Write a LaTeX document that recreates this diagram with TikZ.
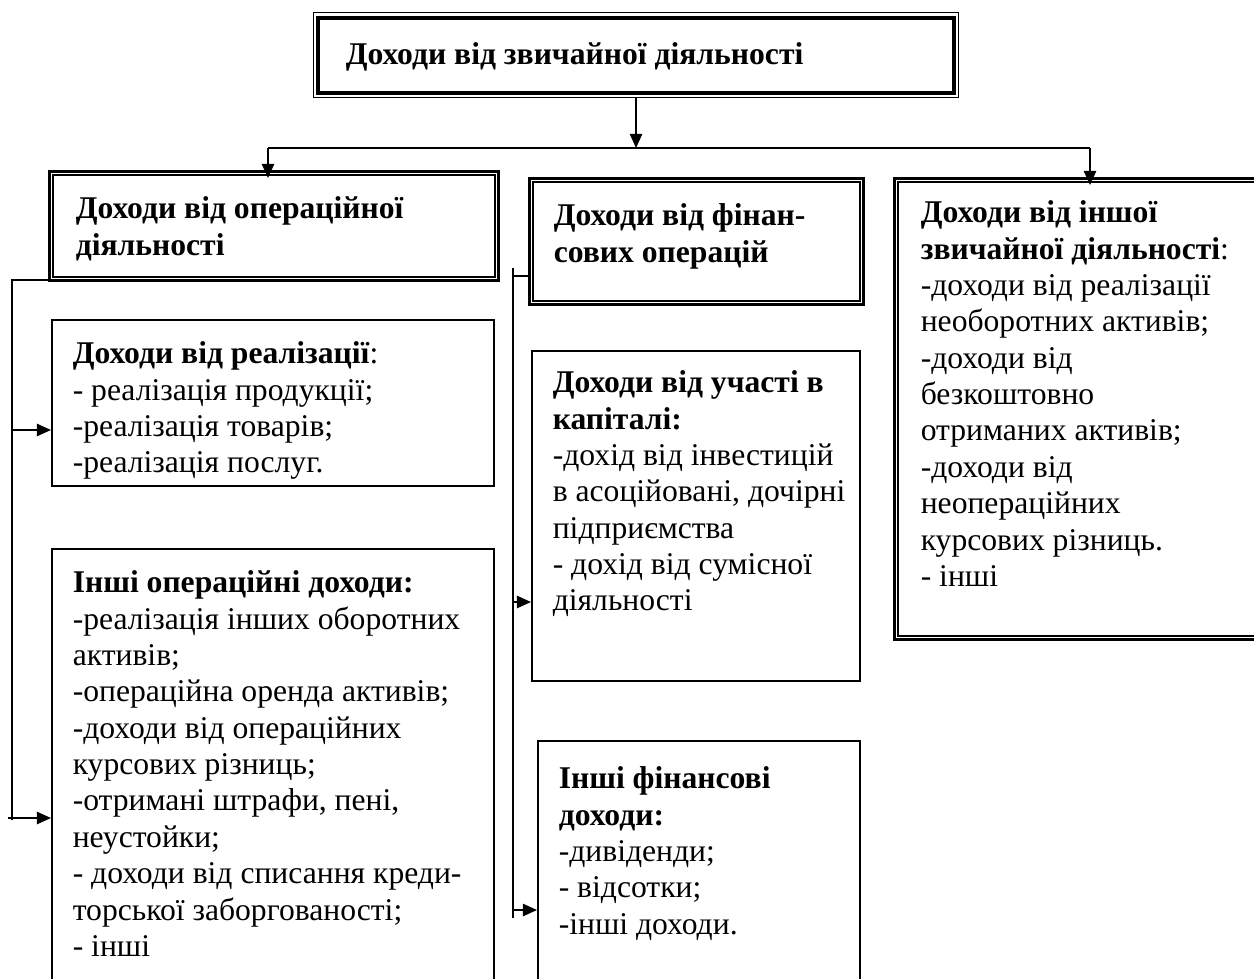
\documentclass[tikz,border=0pt]{standalone}
\usepackage{fontspec}
\setmainfont{Liberation Serif}
\usetikzlibrary{calc,arrows.meta}

\tikzset{
  boxsize/.style 2 args={minimum width=#1*0.02cm, minimum height=#2*0.02cm},
  plainbox/.style={draw, line width=1.1pt, anchor=north west, inner sep=0pt},
  dblbox/.style={draw, line width=1.6pt, anchor=north west, inner sep=0pt},
  boxtext/.style={anchor=north west, align=left, inner sep=0pt,
    font=\fontsize{18}{20.7}\selectfont}
}

\begin{document}
\begin{tikzpicture}[x=0.02cm, y=-0.02cm, line width=0.9pt,
    >={Triangle[length=8pt,width=7pt]}]
    \useasboundingbox (0,0) rectangle (1254,979);

    % boxes
    \node[draw, line width=0.6pt, anchor=north west, inner sep=0pt, boxsize={645}{85}] (top) at (313,12) {};
    \node[dblbox, boxsize={449}{109}] (oper) at (48,170) {};
    \node[plainbox, boxsize={442}{166}] (realiz) at (51,319) {};
    \node[plainbox, boxsize={442}{440}] (otheroper) at (51,548) {};
    \node[dblbox, boxsize={334}{126}] (fin) at (528,177) {};
    \node[plainbox, boxsize={328}{330}] (capital) at (531,350) {};
    \node[plainbox, boxsize={322}{260}] (otherfin) at (537,740) {};
    \node[dblbox, boxsize={400}{461}] (otherord) at (893,177) {};

    % inner frames
    \draw[line width=2.4pt] ($(top.north west)+(5,6)$) rectangle ($(top.south east)+(-5,-5)$);
    \foreach \b in {oper,fin,otherord} {
      \draw[line width=0.8pt] ($(\b.north west)+(5,5)$) rectangle ($(\b.south east)+(-5,-5)$);
    }

    % texts
    \node[boxtext] (toptxt) at ($(top.north west)+(32,30)$) {\textbf{Доходи від звичайної діяльності}};
    \node[boxtext] (opertxt) at ($(oper.north west)+(27,26)$) {\textbf{Доходи від операційної}\\\textbf{діяльності}};
    \node[boxtext] (realiztxt) at ($(realiz.north west)+(21,22)$) {\textbf{Доходи від реалізації}:\\- реалізація продукції;\\-реалізація товарів;\\-реалізація послуг.};
    \node[boxtext] (otheropertxt) at ($(otheroper.north west)+(21,22)$) {\textbf{Інші операційні доходи:}\\-реалізація інших оборотних\\активів;\\-операційна оренда активів;\\-доходи від операційних\\курсових різниць;\\-отримані штрафи, пені,\\неустойки;\\- доходи від списання креди-\\торської заборгованості;\\- інші};
    \node[boxtext] (fintxt) at ($(fin.north west)+(25,26)$) {\textbf{Доходи від фінан-}\\\textbf{сових операцій}};
    \node[boxtext] (capitaltxt) at ($(capital.north west)+(21,20)$) {\textbf{Доходи від участі в}\\\textbf{капіталі:}\\-дохід від інвестицій\\в асоційовані, дочірні\\підприємства\\- дохід від сумісної\\діяльності};
    \node[boxtext] (otherfintxt) at ($(otherfin.north west)+(21,26)$) {\textbf{Інші фінансові}\\\textbf{доходи:}\\-дивіденди;\\- відсотки;\\-інші доходи.};
    \node[boxtext] (otherordtxt) at ($(otherord.north west)+(27,23)$) {\textbf{Доходи від іншої}\\\textbf{звичайної діяльності}:\\-доходи від реалізації\\необоротних активів;\\-доходи від\\безкоштовно\\отриманих активів;\\-доходи від\\неопераційних\\курсових різниць.\\- інші};

    % top bus
    \coordinate (busl) at (268,148);
    \coordinate (busr) at (1090,148);
    \draw[->] (top.south) -- (top.south |- busl);
    \draw (busl) -- (busr);
    \draw[->, shorten >=-0.16cm] (busl) -- (busl |- oper.north);
    \draw[->, shorten >=-0.16cm] (busr) -- (busr |- otherord.north);

    % left bus
    \coordinate (lbot) at (12,820);
    \coordinate (la) at (12,430);
    \coordinate (lb) at (8,818);
    \draw ($(oper.south west)+(0,-2)$) -| (lbot);
    \draw[->] (la) -- (la -| realiz.west);
    \draw[->] (lb) -- (lb -| otheroper.west);

    % middle bus
    \coordinate (mtop) at (513,268);
    \coordinate (mbot) at (513,918);
    \coordinate (ma) at (513,276);
    \coordinate (mb) at (513,602);
    \coordinate (mc) at (513,910);
    \draw (mtop) -- (mbot);
    \draw (ma) -- (ma -| fin.west);
    \draw[->] (mb) -- (mb -| capital.west);
    \draw[->] (mc) -- (mc -| otherfin.west);
\end{tikzpicture}
\end{document}
